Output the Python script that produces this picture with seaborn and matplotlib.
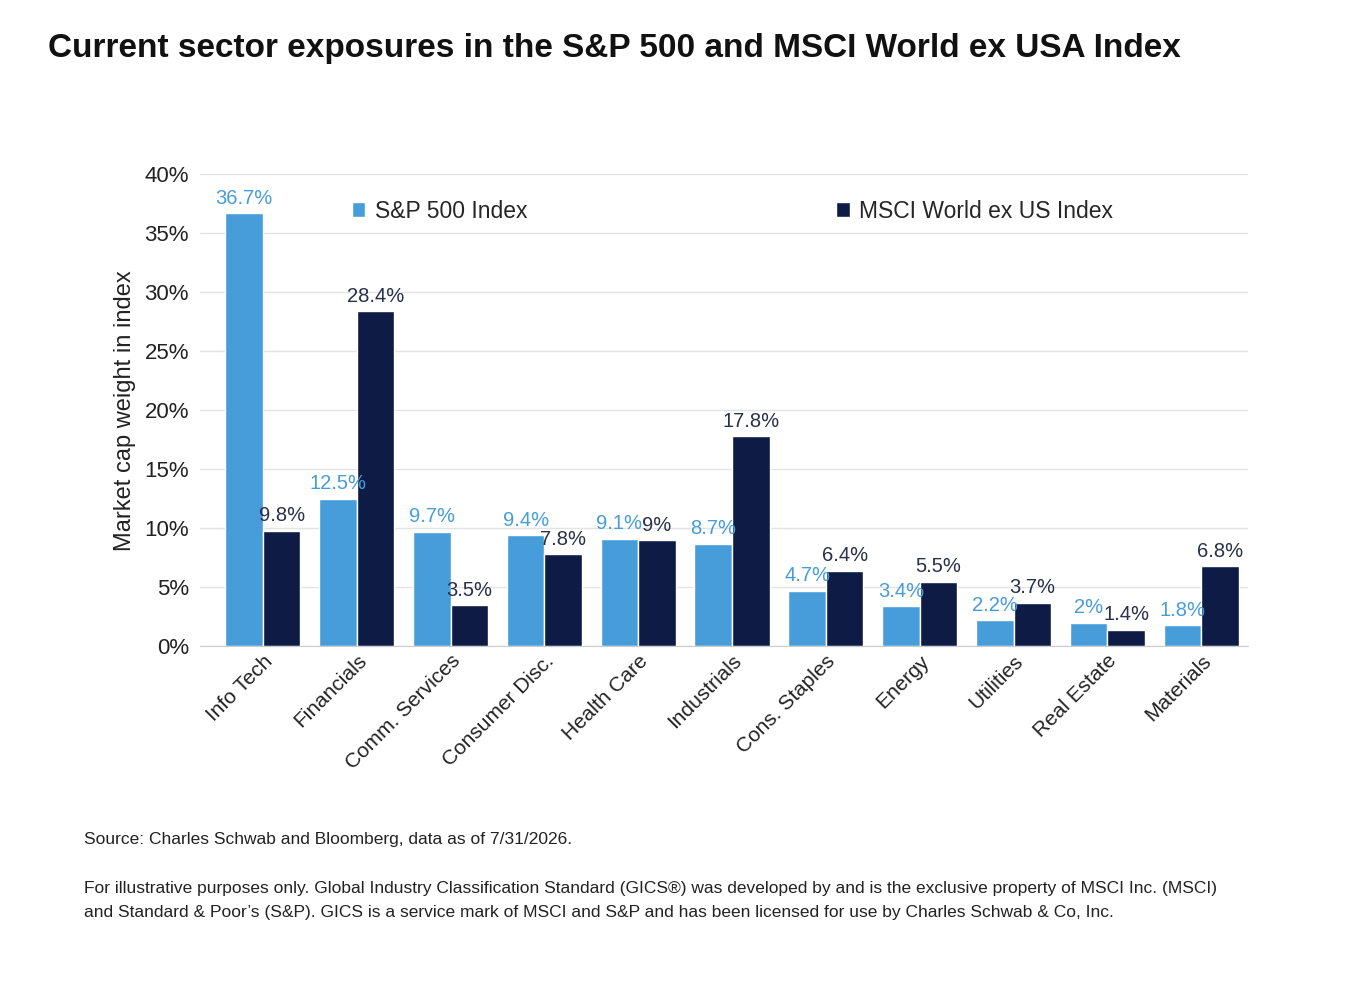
import matplotlib
matplotlib.use("Agg")
import matplotlib.pyplot as plt
import seaborn as sns
import pandas as pd
from matplotlib.ticker import FuncFormatter

sectors = ["Info Tech", "Financials", "Comm. Services", "Consumer Disc.", "Health Care",
           "Industrials", "Cons. Staples", "Energy", "Utilities", "Real Estate", "Materials"]
sp500 = [36.7, 12.5, 9.7, 9.4, 9.1, 8.7, 4.7, 3.4, 2.2, 2.0, 1.8]
msci = [9.8, 28.4, 3.5, 7.8, 9.0, 17.8, 6.4, 5.5, 3.7, 1.4, 6.8]
series = ["S&P 500 Index", "MSCI World ex US Index"]

df = pd.DataFrame({
    "sector": sectors * 2,
    "value": sp500 + msci,
    "series": [series[0]] * len(sectors) + [series[1]] * len(sectors),
})

sns.set_style("white")
plt.rcParams['font.family'] = ['Liberation Sans', 'DejaVu Sans']
light, dark = "#479DDA", "#0E1B45"

fig = plt.figure(figsize=(13.7, 9.9), dpi=100)
ax = fig.add_axes([0.146, 0.347, 0.765, 0.477])
sns.barplot(data=df, x="sector", y="value", hue="series", palette=[light, dark],
            width=0.8, ax=ax, saturation=1)
ax.set_ylim(0, 40)
ax.set_xlim(-0.67, 10.5)
ax.set_yticks(range(0, 41, 5))
ax.yaxis.set_major_formatter(FuncFormatter(lambda v, p: f"{int(v)}%"))
ax.grid(axis="y", color="#e3e3e3", lw=1)
ax.set_axisbelow(True)
for s in ["top", "right", "left"]:
    ax.spines[s].set_visible(False)
ax.spines["bottom"].set_color("#cccccc")
ax.tick_params(axis="y", labelsize=16, length=0, pad=8, colors="#222222")
ax.tick_params(axis="x", labelsize=15, length=0, colors="#222222")
plt.setp(ax.get_xticklabels(), rotation=45, ha="right", rotation_mode="anchor")
ax.set_xlabel("")
ax.set_ylabel("Market cap weight in index", fontsize=17, color="#222222", labelpad=6)

def fmt(v):
    return f"{v:g}%"
for cont, col in zip(ax.containers, [light, "#2a2f4a"]):
    ax.bar_label(cont, labels=[fmt(v) for v in cont.datavalues], padding=4,
                 fontsize=14.5, color=col)

ax.legend(loc="upper left", bbox_to_anchor=(0.125, 0.99), ncol=2, frameon=False,
          fontsize=16.5, handlelength=0.6, handleheight=0.6, handletextpad=0.4,
          columnspacing=13.5)

fig.text(0.035, 0.951, "Current sector exposures in the S&P 500 and MSCI World ex USA Index",
         fontsize=24, fontweight="bold", color="#111111", va="center")
fig.text(0.061, 0.152, "Source: Charles Schwab and Bloomberg, data as of 7/31/2026.",
         fontsize=12.5, color="#222222", va="center")
fig.text(0.061, 0.090,
         "For illustrative purposes only. Global Industry Classification Standard (GICS®) was developed by and is the exclusive property of MSCI Inc. (MSCI)\n"
         "and Standard & Poor’s (S&P). GICS is a service mark of MSCI and S&P and has been licensed for use by Charles Schwab & Co, Inc.",
         fontsize=12.5, color="#222222", va="center", linespacing=1.75)
fig.savefig("out.png", dpi=100, facecolor="white")
